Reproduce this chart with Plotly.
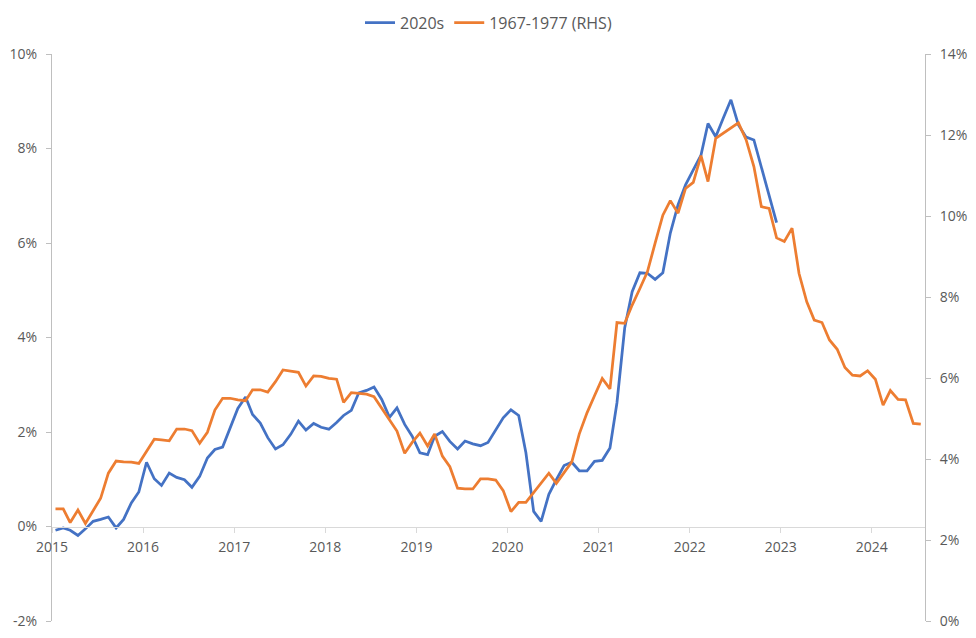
import pandas as pd
import plotly.graph_objects as go

# ── Data (monthly, % YoY) ─────────────────────────────────────────────────────

# 2020s series, Jan 2015 – Dec 2022 (left axis)
blue_2020s = [
    -0.08, -0.03, -0.08, -0.19, -0.05, 0.11, 0.15, 0.20, -0.03, 0.15, 0.50, 0.73,
    1.36, 1.01, 0.87, 1.13, 1.04, 0.99, 0.83, 1.06, 1.45, 1.63, 1.68, 2.07,
    2.50, 2.74, 2.37, 2.19, 1.88, 1.64, 1.73, 1.95, 2.23, 2.04, 2.18, 2.10,
    2.06, 2.20, 2.35, 2.46, 2.83, 2.88, 2.95, 2.69, 2.31, 2.51, 2.16, 1.91,
    1.56, 1.52, 1.91, 2.01, 1.80, 1.64, 1.81, 1.75, 1.71, 1.78, 2.05, 2.30,
    2.47, 2.35, 1.56, 0.32, 0.11, 0.68, 0.99, 1.29, 1.36, 1.18, 1.18, 1.38,
    1.40, 1.66, 2.62, 4.20, 4.97, 5.37, 5.36, 5.23, 5.37, 6.21, 6.81, 7.23,
    7.55, 7.86, 8.53, 8.25, 8.64, 9.03, 8.50, 8.24, 8.18, 7.62, 7.02, 6.43,
]

# 1967-1977 series aligned to the same months (right axis)
orange_1967 = [
    2.77, 2.77, 2.43, 2.74, 2.41, 2.74, 3.03, 3.65, 3.95, 3.93, 3.92, 3.89,
    4.18, 4.49, 4.47, 4.45, 4.74, 4.74, 4.70, 4.39, 4.66, 5.21, 5.50, 5.50,
    5.46, 5.44, 5.71, 5.71, 5.65, 5.91, 6.20, 6.17, 6.14, 5.80, 6.05, 6.04,
    5.99, 5.97, 5.40, 5.64, 5.62, 5.60, 5.54, 5.25, 4.96, 4.69, 4.14, 4.41,
    4.64, 4.32, 4.62, 4.07, 3.81, 3.28, 3.26, 3.26, 3.51, 3.51, 3.48, 3.22,
    2.70, 2.93, 2.93, 3.17, 3.40, 3.65, 3.40, 3.65, 3.93, 4.62, 5.14, 5.56,
    5.99, 5.73, 7.37, 7.35, 7.80, 8.21, 8.62, 9.33, 10.02, 10.38, 10.07, 10.68,
    10.83, 11.49, 10.85, 11.92, 12.04, 12.16, 12.30, 11.88, 11.22, 10.23, 10.19, 9.46,
    9.37, 9.70, 8.58, 7.88, 7.43, 7.37, 6.94, 6.71, 6.26, 6.07, 6.05, 6.18,
    5.97, 5.33, 5.69, 5.47, 5.46, 4.88, 4.86,
]

years = [str(y) for y in range(2015, 2025)]
left_ticks = [-2, 0, 2, 4, 6, 8, 10]
left_labels = ["-2%", "0%", "2%", "4%", "6%", "8%", "10%"]
right_ticks = [0, 2, 4, 6, 8, 10, 12, 14]
right_labels = ["0%", "2%", "4%", "6%", "8%", "10%", "12%", "14%"]

# points sit mid-month, like Excel's date axis
months = pd.date_range("2015-01-01", periods=len(orange_1967), freq="MS") + pd.Timedelta(days=14)

BLUE = "#4472C4"
ORANGE = "#ED7D31"
GREY_TXT = "#595959"
AXIS = "#BFBFBF"

# ── Figure ────────────────────────────────────────────────────────────────────
# the page body adds an 8px margin, so the figure is 8px smaller each way

fig = go.Figure()

fig.add_trace(go.Scatter(
    x=months[:len(blue_2020s)], y=blue_2020s,
    mode="lines", name="2020s",
    line=dict(color=BLUE, width=2.75),
    yaxis="y",
))
fig.add_trace(go.Scatter(
    x=months, y=orange_1967,
    mode="lines", name="1967-1977 (RHS)",
    line=dict(color=ORANGE, width=2.75),
    yaxis="y2",
))

fig.update_layout(
    width=968, height=630,
    paper_bgcolor="white", plot_bgcolor="white",
    font=dict(family="Open Sans", size=14, color=GREY_TXT),
    margin=dict(l=44, r=51, t=46, b=17, autoexpand=False),
    showlegend=True,
    legend=dict(
        orientation="h", x=0.5, xanchor="center", y=1.055, yanchor="middle",
        font=dict(size=16, color=GREY_TXT), itemwidth=30,
        bgcolor="rgba(0,0,0,0)",
    ),
    xaxis=dict(
        type="date",
        range=["2015-01-01", "2024-08-01"],
        tickvals=[f"{y}-01-01" for y in years],
        ticktext=years,
        anchor="free", position=1 / 6,
        showgrid=False, zeroline=False, automargin=False,
        showline=True, linecolor="#D9D9D9", linewidth=1,
        ticks="outside", ticklen=5, tickcolor="#D9D9D9",
        ticklabelstandoff=3,
        tickfont=dict(size=14, color=GREY_TXT),
    ),
    yaxis=dict(
        range=[-2, 10],
        tickvals=left_ticks, ticktext=left_labels,
        showgrid=False, zeroline=False, automargin=False,
        showline=True, linecolor=AXIS, linewidth=1,
        ticks="outside", ticklen=5, tickcolor=AXIS,
        ticklabelstandoff=6,
        tickfont=dict(size=14, color=GREY_TXT),
        anchor="x",
    ),
    yaxis2=dict(
        range=[0, 14],
        tickvals=right_ticks, ticktext=right_labels,
        overlaying="y", side="right", anchor="x",
        showgrid=False, zeroline=False, automargin=False,
        showline=True, linecolor=AXIS, linewidth=1,
        ticks="outside", ticklen=5, tickcolor=AXIS,
        ticklabelstandoff=6,
        tickfont=dict(size=14, color=GREY_TXT),
    ),
)

fig.write_html("out.html")
